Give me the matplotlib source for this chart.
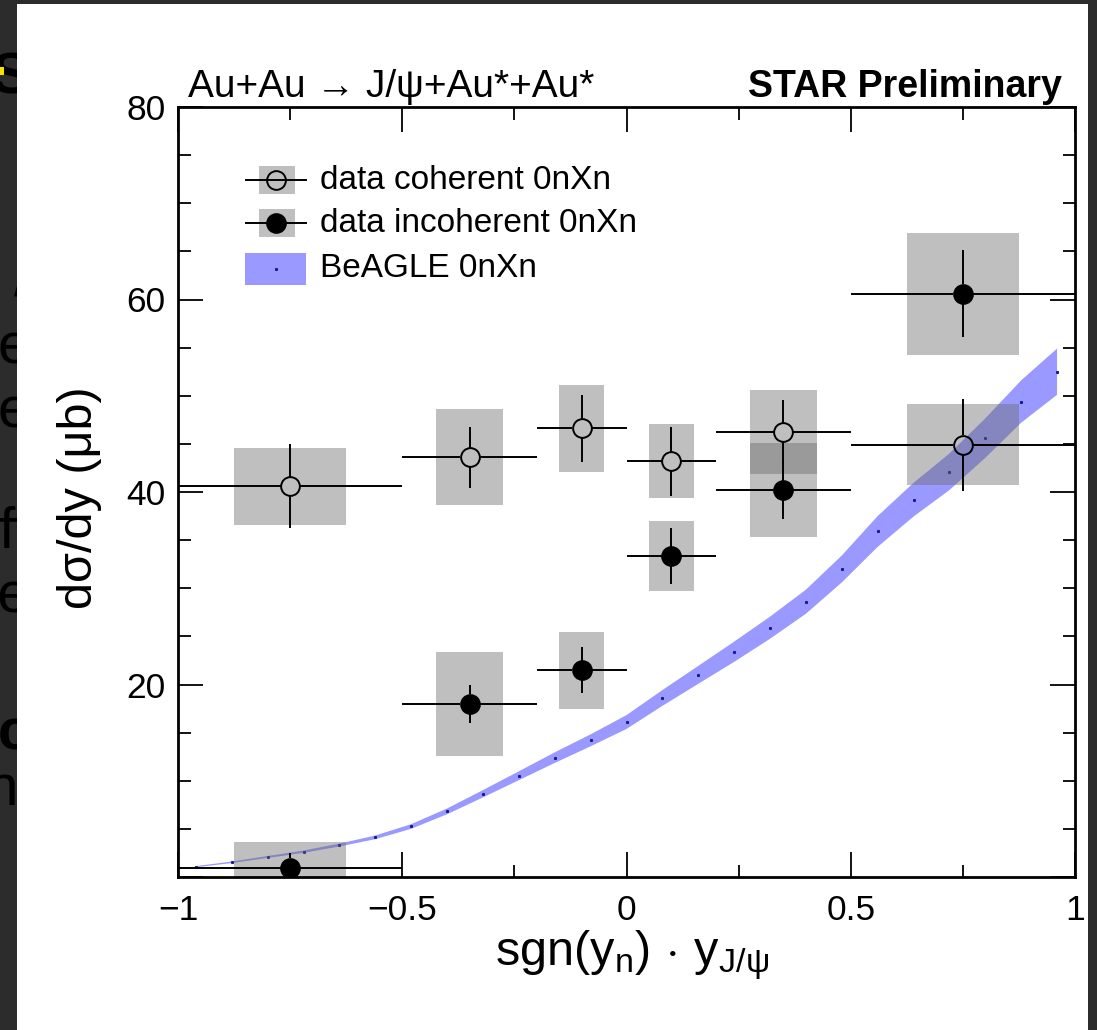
import numpy as np
import matplotlib.pyplot as plt
from matplotlib.patches import Rectangle
from matplotlib.lines import Line2D
from matplotlib.ticker import MultipleLocator

plt.rcParams['font.family'] = ['Liberation Sans', 'DejaVu Sans']
plt.rcParams['mathtext.fontset'] = 'custom'
plt.rcParams['mathtext.rm'] = 'Liberation Sans'
plt.rcParams['mathtext.it'] = 'Liberation Sans'

# rapidity bins of the measurement
bin_lo = [-1.0, -0.5, -0.2, 0.0, 0.2, 0.5]
bin_hi = [-0.5, -0.2, 0.0, 0.2, 0.5, 1.0]
bin_x = [-0.75, -0.35, -0.1, 0.1, 0.35, 0.75]

# coherent 0nXn
coh_y = [40.6, 43.6, 46.6, 43.2, 46.2, 44.9]
coh_stat = [4.35, 3.2, 3.5, 3.6, 3.4, 4.75]
coh_sys = [4.0, 5.0, 4.5, 3.85, 4.35, 4.2]

# incoherent 0nXn
inc_y = [0.95, 18.0, 21.5, 33.35, 40.2, 60.6]
inc_stat = [1.55, 2.0, 2.4, 2.9, 3.0, 4.5]
inc_sys = [2.65, 5.4, 4.0, 3.65, 4.85, 6.35]

# BeAGLE prediction
bg_x = [-0.96, -0.88, -0.80, -0.72, -0.64, -0.56, -0.48, -0.40, -0.32, -0.24,
        -0.16, -0.08, 0.00, 0.08, 0.16, 0.24, 0.32, 0.40, 0.48, 0.56,
        0.64, 0.72, 0.80, 0.88, 0.96]
bg_y = [1.07, 1.53, 2.08, 2.63, 3.32, 4.12, 5.25, 6.82, 8.65, 10.52,
        12.4, 14.2, 16.1, 18.6, 21.0, 23.4, 25.9, 28.6, 32.0, 35.9,
        39.2, 42.1, 45.6, 49.4, 52.5]
bg_err = [0.06, 0.08, 0.10, 0.12, 0.15, 0.19, 0.24, 0.30, 0.38, 0.46,
          0.55, 0.62, 0.72, 0.82, 0.93, 1.05, 1.15, 1.25, 1.40, 1.60,
          1.75, 1.90, 2.05, 2.20, 2.40]

W, H = 1097, 1030
fig = plt.figure(figsize=(W / 100, H / 100), dpi=100, facecolor='#2c2c2c')

# slide behind the window: fragments of text peeking out on the left
frag = [('S', 78, 'bold'), ('/', 280, 'normal'), ('e', 348, 'normal'),
        ('e', 412, 'normal'), ('ff', 533, 'normal'), ('fe', 597, 'normal'),
        ('c', 735, 'bold'), ('ni', 790, 'normal')]
for s, yp, wt in frag:
    fig.text(30 / W, 1 - yp / H, s, ha='right', va='center', fontsize=42,
             fontweight=wt, color='black', zorder=-3)
fig.patches.append(Rectangle((0, 1 - 75 / H), 4 / W, 8 / H, transform=fig.transFigure,
                             facecolor='#f5e400', edgecolor='none', zorder=-2))
fig.patches.append(Rectangle((17 / W, 0), (1088 - 17) / W, (H - 4) / H,
                             transform=fig.transFigure, facecolor='white',
                             edgecolor='none', zorder=-1))

ax = fig.add_axes([178 / W, 1 - 877 / H, 897 / W, 770 / H])
ax.set_facecolor('none')
ax.set_xlim(-1, 1)
ax.set_ylim(0, 80)

ax.fill_between(bg_x, np.array(bg_y) - bg_err, np.array(bg_y) + bg_err,
                facecolor='#9999ff', edgecolor='none', zorder=1)
ax.plot(bg_x, bg_y, ls='none', marker='s', ms=1.2, color='#1a1a8c', zorder=1.5)

box_col = (0.42, 0.42, 0.42)
for ys, sys in ((coh_y, coh_sys), (inc_y, inc_sys)):
    for x, lo, hi, y, s in zip(bin_x, bin_lo, bin_hi, ys, sys):
        hw = 0.25 * (hi - lo)
        ax.add_patch(Rectangle((x - hw, y - s), 2 * hw, 2 * s, facecolor=box_col,
                               alpha=0.43, edgecolor='none', zorder=2))

# marker radius in data units so error lines stop at the marker edge
r_px = 9.5
inv = ax.transData.inverted()
p0 = inv.transform(ax.transData.transform((0, 0)))
p1 = inv.transform(ax.transData.transform((0, 0)) + np.array([r_px, r_px]))
rx, ry = p1 - p0

for ys, stat, filled in ((coh_y, coh_stat, False), (inc_y, inc_stat, True)):
    for x, lo, hi, y, e in zip(bin_x, bin_lo, bin_hi, ys, stat):
        kw = dict(color='black', lw=1.4, zorder=3, solid_capstyle='butt')
        ax.plot([lo, x - rx], [y, y], **kw)
        ax.plot([x + rx, hi], [y, y], **kw)
        ax.plot([x, x], [y - e, y - ry], **kw)
        ax.plot([x, x], [y + ry, y + e], **kw)
    ax.plot(bin_x, ys, ls='none', marker='o', ms=13.5, mew=1.4,
            mfc='black' if filled else 'none', mec='black', zorder=4)

# axes styling
for sp in ax.spines.values():
    sp.set_linewidth(2)
ax.set_xticks([-1, -0.5, 0, 0.5, 1])
ax.set_xticklabels(['\u22121', '\u22120.5', '0', '0.5', '1'])
ax.xaxis.set_minor_locator(MultipleLocator(0.25))
ax.set_yticks([0, 20, 40, 60, 80])
ax.set_yticklabels(['', '20', '40', '60', '80'])
ax.yaxis.set_minor_locator(MultipleLocator(5))
ax.tick_params(which='both', direction='in', top=True, right=True, width=1.3)
ax.tick_params(which='major', length=18, labelsize=25.5)
ax.tick_params(axis='x', which='major', pad=12)
ax.tick_params(axis='y', which='major', pad=9)
ax.tick_params(which='minor', length=9)

ax.set_xlabel(r'$\mathrm{sgn(y_{n})\,\cdot\,y_{J/\psi}}$', fontsize=35)
ax.xaxis.set_label_coords(0.506, -0.066)
ax.set_ylabel('d\u03c3/dy (\u03bcb)', fontsize=35)
ax.yaxis.set_label_coords(-0.085, 0.492)

ax.text(0.011, 1.013, 'Au+Au \u2192 J/\u03c8+Au*+Au*', transform=ax.transAxes,
        fontsize=28, ha='left', va='baseline')
ax.text(0.9855, 1.013, 'STAR Preliminary', transform=ax.transAxes,
        fontsize=27, fontweight='bold', ha='right', va='baseline')

# legend drawn by hand: box + error bar symbols
tr = ax.transAxes
rows = [0.905, 0.849, 0.790]
labels = ['data coherent 0nXn', 'data incoherent 0nXn', 'BeAGLE 0nXn']
for i, (yr, lab) in enumerate(zip(rows, labels)):
    if i < 2:
        ax.add_patch(Rectangle((0.0903, yr - 0.0182), 0.0401, 0.0364, transform=tr,
                               facecolor=box_col, alpha=0.43, edgecolor='none', zorder=2))
        ax.add_line(Line2D([0.0758, 0.1427], [yr, yr], transform=tr, color='black',
                           lw=1.4, zorder=3))
        ax.add_line(Line2D([0.1092], [yr], transform=tr, ls='none', marker='o', ms=13.5,
                           mew=1.4, mfc='black' if i == 1 else 'none',
                           mec='black', zorder=4))
    else:
        ax.add_patch(Rectangle((0.0747, yr - 0.0208), 0.068, 0.0416, transform=tr,
                               facecolor='#9999ff', edgecolor='none', zorder=2))
        ax.add_line(Line2D([0.1092], [yr], transform=tr, ls='none', marker='s', ms=1.2,
                           color='#1a1a8c', zorder=3))
    ax.text(0.158, yr, lab, transform=tr, fontsize=24, ha='left', va='center')

fig.savefig('out.png', dpi=100, facecolor=fig.get_facecolor())
